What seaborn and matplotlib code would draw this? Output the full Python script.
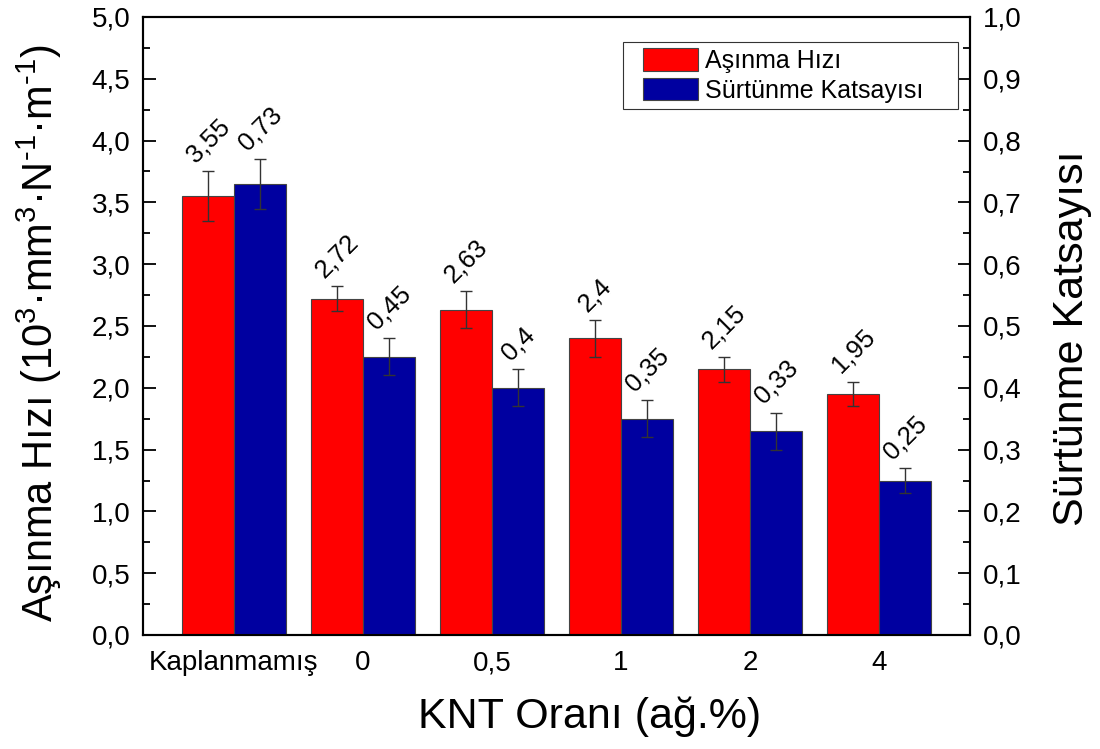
import matplotlib
matplotlib.use('Agg')
import matplotlib.pyplot as plt
import seaborn as sns
import pandas as pd
from matplotlib.ticker import MultipleLocator, FuncFormatter
from matplotlib.patches import Patch, Rectangle
from matplotlib.legend_handler import HandlerPatch

categories = ['Kaplanmamış', '0', '0,5', '1', '2', '4']
wear_rate = [3.55, 2.72, 2.63, 2.40, 2.15, 1.95]
wear_err = [0.20, 0.10, 0.15, 0.15, 0.10, 0.10]
friction = [0.73, 0.45, 0.40, 0.35, 0.33, 0.25]
friction_err = [0.04, 0.03, 0.03, 0.03, 0.03, 0.02]
wear_labels = ['3,55', '2,72', '2,63', '2,4', '2,15', '1,95']
friction_labels = ['0,73', '0,45', '0,4', '0,35', '0,33', '0,25']
series_names = ['Aşınma Hızı', 'Sürtünme Katsayısı']
colors = ['#FF0000', '#0000A0']

sns.set_style('white')
plt.rcParams['font.family'] = ['Liberation Sans', 'DejaVu Sans']
plt.rcParams['mathtext.fontset'] = 'custom'
plt.rcParams['mathtext.rm'] = 'Liberation Sans'
plt.rcParams['mathtext.it'] = 'Liberation Sans:italic'
plt.rcParams['mathtext.bf'] = 'Liberation Sans:bold'
for k in ['text.color', 'axes.labelcolor', 'xtick.color', 'ytick.color', 'axes.edgecolor']:
    plt.rcParams[k] = 'black'

df_w = pd.DataFrame({'KNT': categories, 'deger': wear_rate, 'seri': series_names[0]})
df_f = pd.DataFrame({'KNT': categories, 'deger': friction, 'seri': series_names[1]})
palette = dict(zip(series_names, colors))

fig = plt.figure(figsize=(11, 7.49), dpi=100)
ax1 = fig.add_axes([143/1100, 1-635/749, (970-143)/1100, (635-17)/749])
ax2 = ax1.twinx()

sns.barplot(data=df_w, x='KNT', y='deger', hue='seri', hue_order=series_names,
            order=categories, palette=palette, ax=ax1, errorbar=None, width=0.806,
            dodge=True, edgecolor='#444444', linewidth=0.8, legend=False, saturation=1)
sns.barplot(data=df_f, x='KNT', y='deger', hue='seri', hue_order=series_names,
            order=categories, palette=palette, ax=ax2, errorbar=None, width=0.806,
            dodge=True, edgecolor='#444444', linewidth=0.8, legend=False, saturation=1)

xw = [p.get_x() + p.get_width()/2 for p in ax1.patches]
xf = [p.get_x() + p.get_width()/2 for p in ax2.patches]

ax1.errorbar(xw, wear_rate, yerr=wear_err, fmt='none', ecolor='#333333',
             elinewidth=1, capsize=4, capthick=1)
ax2.errorbar(xf, friction, yerr=friction_err, fmt='none', ecolor='#333333',
             elinewidth=1, capsize=4, capthick=1)

for x, v, e, t in zip(xw, wear_rate, wear_err, wear_labels):
    ax1.annotate(t, (x, v + e), xytext=(0, 3), textcoords='offset points',
                 ha='center', va='bottom', rotation=45, fontsize=18.5)
for x, v, e, t in zip(xf, friction, friction_err, friction_labels):
    ax2.annotate(t, (x, v + e), xytext=(0, 3), textcoords='offset points',
                 ha='center', va='bottom', rotation=45, fontsize=18.5)

ax1.set_xlim(-0.705, 5.705)
ax1.set_ylim(0, 5.0)
ax2.set_ylim(0, 1.0)

comma = FuncFormatter(lambda v, p: f'{v:.1f}'.replace('.', ','))
ax1.yaxis.set_major_locator(MultipleLocator(0.5))
ax1.yaxis.set_minor_locator(MultipleLocator(0.25))
ax1.yaxis.set_major_formatter(comma)
ax2.yaxis.set_major_locator(MultipleLocator(0.1))
ax2.yaxis.set_minor_locator(MultipleLocator(0.05))
ax2.yaxis.set_major_formatter(comma)

ax1.tick_params(axis='y', which='major', direction='in', length=9, width=1.3,
                labelsize=20, pad=9, left=True)
ax1.tick_params(axis='y', which='minor', direction='in', length=5, width=1.3, left=True)
ax2.tick_params(axis='y', which='major', direction='in', length=9, width=1.3,
                labelsize=20, pad=9, right=True)
ax2.tick_params(axis='y', which='minor', direction='in', length=5, width=1.3, right=True)
ax1.tick_params(axis='x', length=0, labelsize=20, pad=11)

for ax in (ax1, ax2):
    for s in ax.spines.values():
        s.set_visible(True)
        s.set_color('black')
        s.set_linewidth(1.5)

ax1.set_xlabel('KNT Oranı (ağ.%)', fontsize=31)
ax1.xaxis.set_label_coords(0.54, -0.1)
ax1.set_ylabel(r'Aşınma Hızı (10$^{3}$·mm$^{3}$·N$^{\text{-}1}$·m$^{\text{-}1}$)',
               fontsize=30, labelpad=20)
ax1.yaxis.label.set_y(0.488)
ax2.set_ylabel('Sürtünme Katsayısı', fontsize=31, labelpad=22)
ax2.yaxis.label.set_y(0.481)


def shifted_patch(legend, orig_handle, xdescent, ydescent, width, height, fontsize):
    pw = 39.6
    return Rectangle((-xdescent + width - pw, -ydescent), pw, height)


handles = [Patch(facecolor=c, edgecolor='#444444', linewidth=0.8) for c in colors]
leg = ax2.legend(handles, series_names, loc='upper left',
                 bbox_to_anchor=(0.5804, 0.5, 0.405, 0.4595), mode='expand',
                 borderaxespad=0, fontsize=18, frameon=True, fancybox=False,
                 framealpha=1, edgecolor='#333333', handlelength=2.75,
                 handleheight=1.0, handletextpad=0.3, labelspacing=0.2,
                 borderpad=0.25,
                 handler_map={Patch: HandlerPatch(patch_func=shifted_patch)})
leg.get_frame().set_linewidth(0.8)

fig.savefig('out.png', dpi=100)
